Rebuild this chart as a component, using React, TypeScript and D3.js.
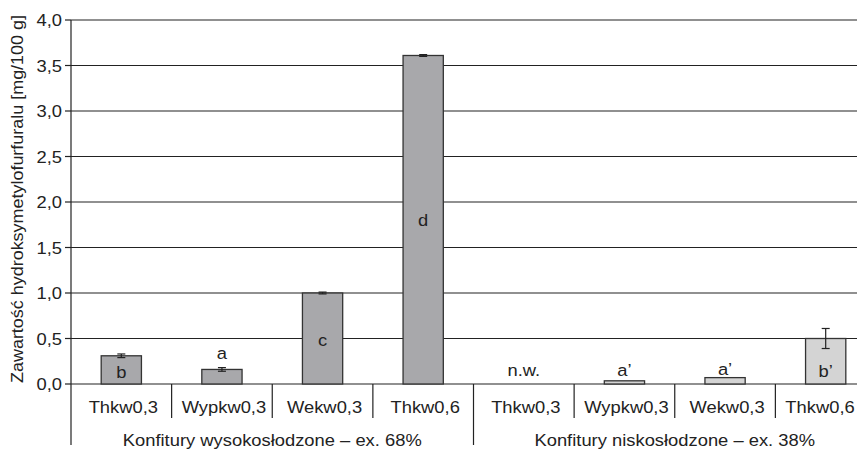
import React from "react";
import * as d3 from "d3";

const categories = ["Thkw0,3", "Wypkw0,3", "Wekw0,3", "Thkw0,6", "Thkw0,3", "Wypkw0,3", "Wekw0,3", "Thkw0,6"];
const values = [0.31, 0.16, 1.0, 3.61, 0, 0.035, 0.07, 0.5];
const errors = [0.02, 0.02, 0.01, 0.01, 0, 0, 0, 0.11];
const letters = ["b", "a", "c", "d", "n.w.", "a’", "a’", "b’"];
const letterLevel = [0.13, 0.34, 0.48, 1.8, 0.15, 0.15, 0.16, 0.14];
const groups = ["Konfitury wysokosłodzone – ex. 68%", "Konfitury niskosłodzone – ex. 38%"];
const yTicks = [0, 0.5, 1, 1.5, 2, 2.5, 3, 3.5, 4];

const W = 857, H = 450;
const left = 71, top = 20, bottom = 384, right = 876;
const FS = 17;
const SX = 1.08;

// text widened a bit, the source font is broader than Liberation Sans
const T = ({ x, y, anchor = "middle", children }: any) => (
  <text transform={`translate(${x},${y}) scale(${SX},1)`} textAnchor={anchor} fontSize={FS} fill="#222">
    {children}
  </text>
);

const App = () => {
  const x = d3.scaleBand<number>().domain(d3.range(categories.length)).range([left, right]).padding(0);
  const y = d3.scaleLinear().domain([0, 4]).range([bottom, top]);
  const bw = x.bandwidth() * 0.4;
  const fmt = (v: number) => d3.format(".1f")(v).replace(".", ",");

  return (
    <svg width={W} height={H} style={{ position: "absolute", left: 0, top: 0 }} fontFamily="'Liberation Sans', Arial, sans-serif">
      <rect width={W} height={H} fill="#fff" />
      {yTicks.map((t) => (
        <g key={t}>
          <line x1={left} x2={W} y1={y(t)} y2={y(t)} stroke="#222" strokeWidth={1.2} />
          <line x1={left - 6} x2={left} y1={y(t)} y2={y(t)} stroke="#222" strokeWidth={1.2} />
          <T x={left - 9} y={y(t) + 6} anchor="end">{fmt(t)}</T>
        </g>
      ))}
      <line x1={left} x2={left} y1={top} y2={445} stroke="#222" strokeWidth={1.2} />
      <text
        transform={`translate(23,${(top + bottom) / 2 - 3}) rotate(-90)`}
        textAnchor="middle"
        fontSize={FS}
        fill="#222"
        textLength={368}
        lengthAdjust="spacingAndGlyphs"
      >
        Zawartość hydroksymetylofurfuralu [mg/100 g]
      </text>
      {values.map((v, i) => {
        const cx = x(i)! + x.bandwidth() / 2;
        const fill = i < 4 ? "#a8a8ab" : "#d4d4d4";
        const yt = y(v);
        return (
          <g key={i}>
            {v > 0 && (
              <rect x={cx - bw / 2} y={yt} width={bw} height={bottom - yt} fill={fill} stroke="#333" strokeWidth={1.3} />
            )}
            {errors[i] > 0 && (
              <g stroke="#222" strokeWidth={1.2}>
                <line x1={cx} x2={cx} y1={y(v - errors[i])} y2={y(v + errors[i])} />
                <line x1={cx - 4} x2={cx + 4} y1={y(v - errors[i])} y2={y(v - errors[i])} />
                <line x1={cx - 4} x2={cx + 4} y1={y(v + errors[i])} y2={y(v + errors[i])} />
              </g>
            )}
            <T x={cx} y={y(letterLevel[i]) + 6}>{letters[i]}</T>
          </g>
        );
      })}
      {categories.map((c, i) => {
        // keep the last label inside the cropped right edge
        const cx = Math.min(x(i)! + x.bandwidth() / 2 + 2, W - 37);
        return (
          <g key={i}>
            <T x={cx} y={413}>{c}</T>
            {i > 0 && i !== 4 && <line x1={x(i)} x2={x(i)} y1={bottom} y2={418} stroke="#222" strokeWidth={1.2} />}
          </g>
        );
      })}
      <line x1={x(4)} x2={x(4)} y1={bottom} y2={445} stroke="#222" strokeWidth={1.2} />
      {groups.map((g, gi) => (
        <T key={g} x={(x(gi * 4)! + x(gi * 4 + 3)! + x.bandwidth()) / 2} y={446}>{g}</T>
      ))}
    </svg>
  );
};

export default App;
